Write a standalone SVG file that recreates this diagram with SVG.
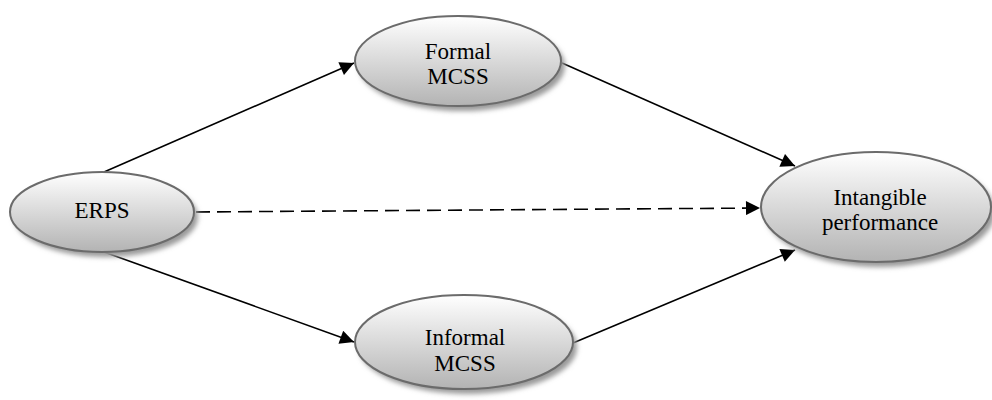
<svg xmlns="http://www.w3.org/2000/svg" width="992" height="400" viewBox="0 0 992 400">
<defs>
<linearGradient id="g" x1="0" y1="0" x2="0" y2="1">
<stop offset="0" stop-color="#ffffff"/>
<stop offset="1" stop-color="#b3b3b3"/>
</linearGradient>
<filter id="sh" x="-20%" y="-20%" width="150%" height="160%">
<feGaussianBlur stdDeviation="2.5"/>
</filter>
<marker id="ah2" viewBox="0 0 10 10" refX="10" refY="5" markerWidth="16" markerHeight="14" markerUnits="userSpaceOnUse" orient="auto">
<path d="M0,0 L10,5 L0,10 z" fill="#000"/>
</marker>
</defs>
<style>
.node ellipse.s{fill:#9a9a9a;filter:url(#sh);}
.node ellipse.b{fill:url(#g);stroke:#6b6b6b;stroke-width:2;}
.node text{font-family:"Liberation Serif","Times New Roman",serif;font-size:23px;fill:#000;text-anchor:middle;}
.edges line{stroke:#000;stroke-width:1.6;marker-end:url(#ah2);}
.edges line.d{stroke-dasharray:14,7;}
</style>
<g class="edges" id="connectors">
<line x1="104" y1="172" x2="354" y2="63"/>
<line x1="562" y1="63" x2="795" y2="166"/>
<line class="d" x1="196" y1="212" x2="760" y2="208"/>
<line x1="104" y1="252" x2="354" y2="342"/>
<line x1="573" y1="343" x2="795" y2="250"/>
</g>
<g class="node" id="erps">
<ellipse class="s" cx="106" cy="217" rx="92" ry="40"/>
<ellipse class="b" cx="102" cy="212" rx="92" ry="40"/>
<text x="102" y="218">ERPS</text>
</g>
<g class="node" id="formal">
<ellipse class="s" cx="462" cy="66" rx="103" ry="45"/>
<ellipse class="b" cx="458" cy="61" rx="103" ry="45"/>
<text x="458" y="59">Formal</text>
<text x="458" y="84">MCSS</text>
</g>
<g class="node" id="informal">
<ellipse class="s" cx="468" cy="347" rx="109" ry="47"/>
<ellipse class="b" cx="464" cy="342" rx="109" ry="47"/>
<text x="465" y="345">Informal</text>
<text x="465" y="371">MCSS</text>
</g>
<g class="node" id="intangible">
<ellipse class="s" cx="880" cy="212" rx="115" ry="55"/>
<ellipse class="b" cx="876" cy="207" rx="115" ry="55"/>
<text x="880" y="205">Intangible</text>
<text x="880" y="230">performance</text>
</g>
</svg>
